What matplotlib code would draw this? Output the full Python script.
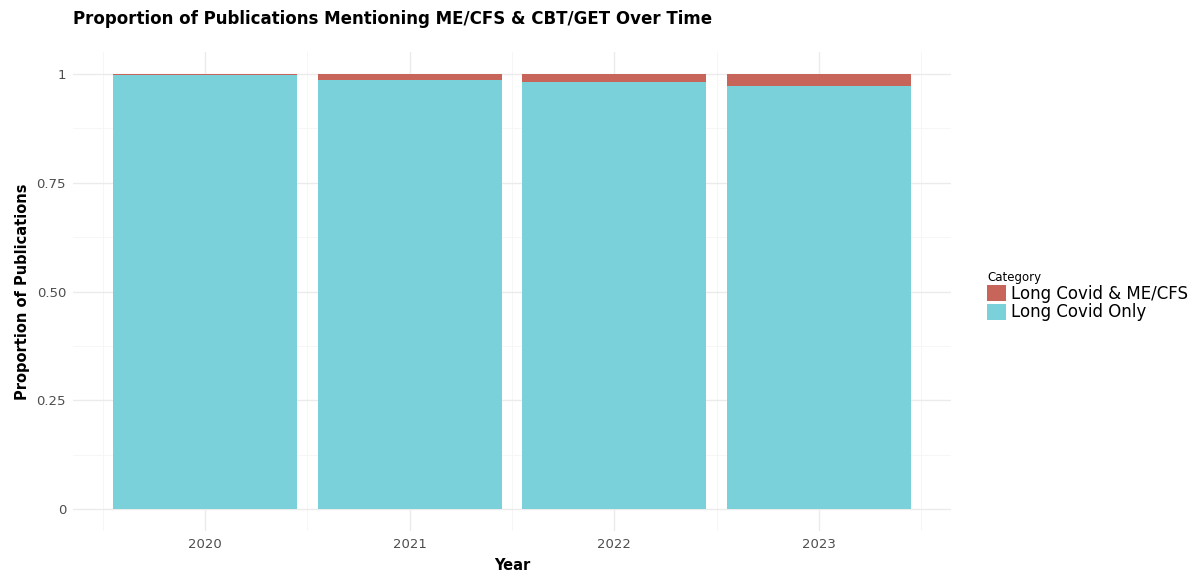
import numpy as np
import matplotlib
matplotlib.use("Agg")
import matplotlib.pyplot as plt
from matplotlib.patches import Patch

years = ["2020", "2021", "2022", "2023"]
both = [0.0035, 0.014, 0.018, 0.027]
only = [1 - v for v in both]
categories = ["Long Covid & ME/CFS", "Long Covid Only"]
y_ticks = [0, 0.25, 0.5, 0.75, 1]
y_labels = ["0", "0.25", "0.50", "0.75", "1"]

RED = "#c8655a"
CYAN = "#7ad1d9"

plt.rcParams['font.family'] = ['DejaVu Sans']
fig = plt.figure(figsize=(12, 5.87), dpi=100)
ax = fig.add_axes([0.0608, 0.0954, 0.7317, 0.816])

x = np.arange(1, len(years) + 1)
ax.bar(x, only, width=0.9, color=CYAN, zorder=3)
ax.bar(x, both, width=0.9, bottom=only, color=RED, zorder=3)

ax.set_xlim(0.355, 4.645)
ax.set_ylim(-0.05, 1.05)
ax.set_xticks(x)
ax.set_xticklabels(years)
ax.set_xticks(np.arange(0.5, 5, 1), minor=True)
ax.set_yticks(y_ticks)
ax.set_yticklabels(y_labels)
ax.set_yticks(np.arange(0.125, 1.0, 0.25), minor=True)
ax.grid(which='major', color='#ebebeb', linewidth=1.0, zorder=0)
ax.grid(which='minor', color='#f5f5f5', linewidth=0.6, zorder=0)
ax.tick_params(which='both', length=0, labelsize=9.5, colors='#4d4d4d', pad=5)
for s in ax.spines.values():
    s.set_visible(False)

ax.set_xlabel("Year", fontsize=10.5, fontweight='bold', va='center')
ax.xaxis.set_label_coords(0.5, -0.073)
ax.set_ylabel("Proportion of Publications", fontsize=10.5, fontweight='bold', va='center')
ax.yaxis.set_label_coords(-0.058, 0.5)
fig.text(0.061, 0.968, "Proportion of Publications Mentioning ME/CFS & CBT/GET Over Time",
         fontsize=12, fontweight='bold', va='center', ha='left')

handles = [Patch(facecolor=RED, edgecolor='none'), Patch(facecolor=CYAN, edgecolor='none')]
fig.legend(handles, categories, title="Category", loc='upper left',
           bbox_to_anchor=(0.8157, 0.553), frameon=False, fontsize=12,
           title_fontsize=8.5, handlelength=1.1, handleheight=1.1,
           handletextpad=0.3, labelspacing=0.05, borderpad=0)
leg = fig.legends[0]
leg._legend_box.align = "left"

fig.savefig("out.png", dpi=100)
